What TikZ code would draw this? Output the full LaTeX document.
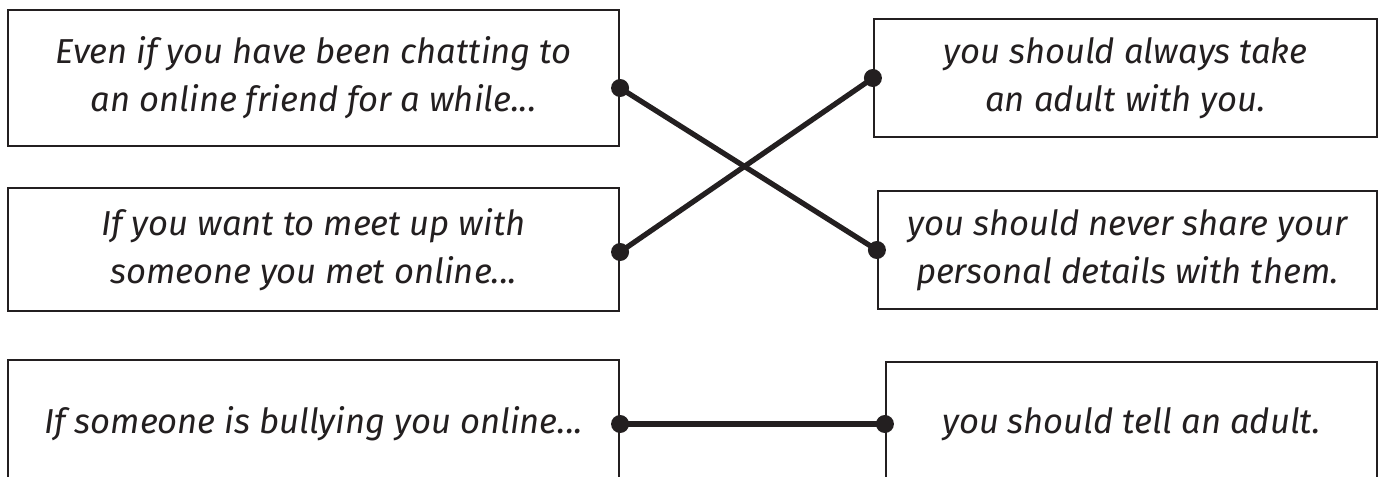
\documentclass[tikz,border=0pt]{standalone}
\usepackage{fontspec}
\setmainfont{Fira Sans}
\usepackage{tikz}
\usetikzlibrary{calc, positioning}
\definecolor{ink}{RGB}{35,31,32}

\begin{document}
\begin{tikzpicture}[
			x=0.02cm, y=-0.02cm,
			card/.style={draw=ink, line width=1.3pt, rectangle, inner sep=0pt, align=center, text=ink, font=\fontsize{19.7}{27.3}\selectfont\itshape},
			pin/.style={circle, fill=ink, inner sep=0pt, minimum size=0.36cm},
			link/.style={draw=ink, line width=3pt}
		]
		\clip (0,0) rectangle (1384,477);

		% left column
		\node[card, minimum width=12.22cm, minimum height=2.72cm] (friend) at (313.5,78) {Even if you have been chatting to\\an online friend for a while...};
		\node[card, minimum width=12.22cm, minimum height=2.46cm] (meetup) at (313.5,249.5) {If you want to meet up with\\someone you met online...};
		\node[card, minimum width=12.22cm, minimum height=2.56cm] (bully) at (313.5,424) {If someone is bullying you online...};

		% right column
		\node[card, minimum width=10.06cm, minimum height=2.36cm] (takeadult) at (1125.5,78) {you should always take\\an adult with you.};
		\node[card, minimum width=9.98cm, minimum height=2.36cm] (details) at (1127.5,250) {you should never share your\\personal details with them.};
		\node[card, minimum width=9.82cm, minimum height=2.48cm] (telladult) at (1131.5,424) {you should tell an adult.};

		% pins
		\node[pin] (friendpin) at ([yshift=-0.2cm]friend.east) {};
		\node[pin] (meetuppin) at ([yshift=-0.05cm]meetup.east) {};
		\node[pin] (bullypin) at (bully.east) {};
		\node[pin] (takeadultpin) at (takeadult.west) {};
		\node[pin] (detailspin) at (details.west) {};
		\node[pin] (telladultpin) at (telladult.west) {};

		\draw[link] (friendpin.center) -- (detailspin.center);
		\draw[link] (meetuppin.center) -- (takeadultpin.center);
		\draw[link] (bullypin.center) -- (telladultpin.center);
	\end{tikzpicture}
\end{document}
